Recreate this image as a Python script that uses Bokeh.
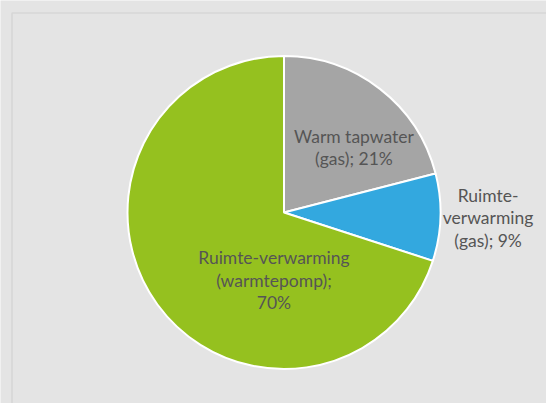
import numpy as np
from bokeh.plotting import figure
from bokeh.models import ColumnDataSource, Range1d
from bokeh.core.properties import value
from bokeh.embed import file_html
from bokeh.resources import INLINE

# ---- data ----
categories = ["Warm tapwater (gas)", "Ruimte-verwarming (gas)", "Ruimte-verwarming (warmtepomp)"]
shares = [21, 9, 70]
label_lines = [
    ["Warm tapwater", "(gas); 21%"],
    ["Ruimte-", "verwarming", "(gas); 9%"],
    ["Ruimte-verwarming", "(warmtepomp);", "70%"],
]
colors = ["#a5a5a5", "#33a8df", "#95c11f"]

# ---- layout (pixels) ----
W, H = 546, 403
BG = "#e4e4e4"
cx, cy, R = 283.5, H - 212.0, 156.5
# label block centres relative to pie centre, as fraction of radius (x right, y up)
label_offsets = [(0.447, 0.415), (1.304, -0.032), (-0.064, -0.434)]
line_step = 22.5
font = "Lato"
font_size = "17.5px"
text_color = "#555555"

vals = np.array(shares, dtype=float)
frac = vals / vals.sum()
cum = np.concatenate([[0.0], np.cumsum(frac)])
start = np.pi / 2 - cum[:-1] * 2 * np.pi
end = np.pi / 2 - cum[1:] * 2 * np.pi

src = ColumnDataSource(dict(cat=categories, start=start, end=end, color=colors,
                            x=[cx] * len(shares), y=[cy] * len(shares)))

p = figure(width=W, height=H, x_range=Range1d(0, W), y_range=Range1d(0, H),
           output_backend="svg", toolbar_location=None, min_border=0,
           background_fill_color=BG, border_fill_color=BG)
p.outline_line_color = None
p.axis.visible = False
p.grid.visible = False

# chart area border
p.line(x=[11.5, 11.5, W + 10], y=[-10, H - 12.5, H - 12.5], line_color="#d6d6d6", line_width=1.5)

p.wedge(x="x", y="y", radius=R, start_angle="start", end_angle="end", direction="clock",
        fill_color="color", line_color="white", line_width=2, source=src)

tx, ty, tt = [], [], []
for lines, (ox, oy) in zip(label_lines, label_offsets):
    n = len(lines)
    bx, by = cx + ox * R, cy + oy * R
    for i, t in enumerate(lines):
        tx.append(bx)
        ty.append(by + ((n - 1) / 2 - i) * line_step)
        tt.append(t)

p.text(x=tx, y=ty, text=tt, text_align="center", text_baseline="middle",
       text_font=value(font), text_font_size=font_size, text_color=text_color)

open("out.html", "w").write(file_html(p, INLINE))
